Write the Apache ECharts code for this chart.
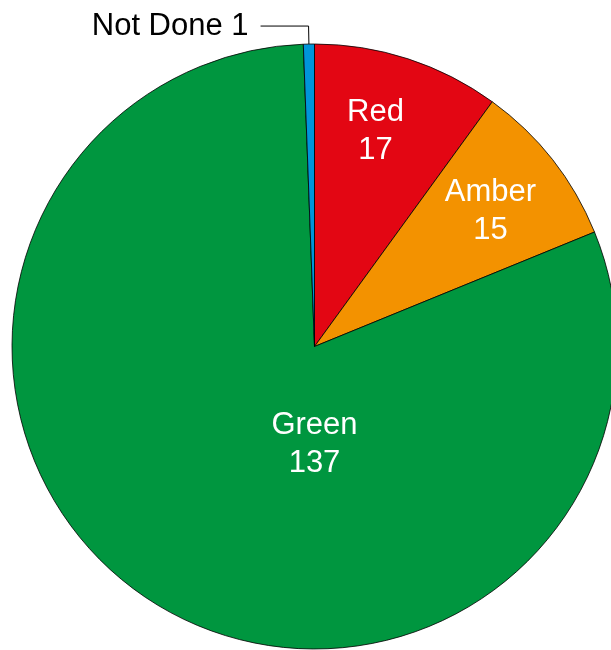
<!DOCTYPE html>
<html>
<head>
<meta charset="utf-8">
<style>
  html, body { margin: 0; padding: 0; background: #fff; }
  #chart { width: 611px; height: 650px; }
</style>
<script src="https://cdn.jsdelivr.net/npm/echarts@6/dist/echarts.min.js"></script>
</head>
<body>
<div id="chart"></div>
<script>
// RAG status counts, clockwise from 12 o'clock
const categories = ['Red', 'Amber', 'Green', 'Not Done'];
const values = [17, 15, 137, 1];
const colors = ['#E30613', '#F39200', '#00963F', '#0095DA'];

// Pie geometry (pixels)
const CX = 314.5, CY = 346.5, R = 302.5;
// Where each inside label block is centred, as offsets from the pie centre
const insideLabelOffsets = { Red: [61, -215], Amber: [176, -135], Green: [0, 98] };

const chart = echarts.init(document.getElementById('chart'), null, { renderer: 'canvas' });

chart.setOption({
  animation: false,
  textStyle: { fontFamily: '"Liberation Sans", Arial, sans-serif' },
  series: [{
    type: 'pie',
    center: [CX, CY],
    radius: [0, R],
    startAngle: 90,
    clockwise: true,
    avoidLabelOverlap: false,
    itemStyle: { borderColor: '#000', borderWidth: 0.8 },
    emphasis: { disabled: true },
    data: categories.map((name, i) => {
      const outside = name === 'Not Done';
      return {
        name,
        value: values[i],
        itemStyle: { color: colors[i] },
        label: outside ? {
          show: true,
          position: 'outside',
          formatter: '{b} {c}',
          color: '#000',
          fontSize: 31,
          distanceToLabelLine: 12
        } : {
          show: true,
          position: 'inside',
          formatter: '{b}\n{c}',
          color: '#fff',
          fontSize: 31,
          lineHeight: 38,
          align: 'center'
        },
        labelLine: outside ? {
          show: true,
          length: 18,
          length2: 48,
          lineStyle: { color: '#000', width: 1 }
        } : { show: false }
      };
    }),
    labelLayout: function (params) {
      const name = categories[params.dataIndex];
      const off = insideLabelOffsets[name];
      if (!off) return {};
      return {
        x: CX + off[0],
        y: CY + off[1],
        align: 'center',
        verticalAlign: 'middle'
      };
    }
  }]
});
</script>
</body>
</html>
